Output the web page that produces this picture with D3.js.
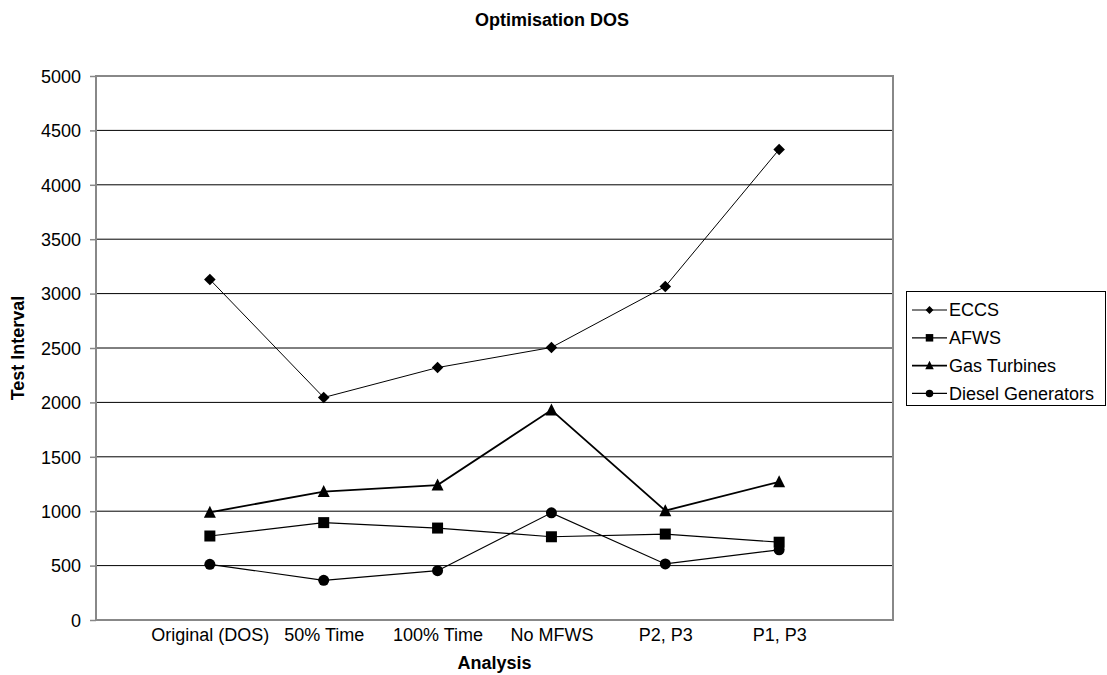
<!DOCTYPE html>
<html>
<head>
<meta charset="utf-8">
<script src="https://cdn.jsdelivr.net/npm/d3@7"></script>
<style>
  body { margin: 0; background: #fff; }
  svg text { font-family: "Liberation Sans", Arial, sans-serif; fill: #000; }
</style>
</head>
<body>
<svg id="chart"></svg>
<script>
var categories = ["Original (DOS)", "50% Time", "100% Time", "No MFWS", "P2, P3", "P1, P3"];
var eccs = [3130, 2045, 2320, 2505, 3065, 4325];
var afws = [772, 895, 845, 765, 790, 715];
var gasTurbines = [990, 1180, 1240, 1930, 1005, 1270];
var dieselGenerators = [512, 365, 453, 985, 515, 645];
var yTicks = [0, 500, 1000, 1500, 2000, 2500, 3000, 3500, 4000, 4500, 5000];

var series = [
  { name: "ECCS", values: eccs, marker: "diamond", width: 1 },
  { name: "AFWS", values: afws, marker: "square", width: 1.2 },
  { name: "Gas Turbines", values: gasTurbines, marker: "triangle", width: 1.8 },
  { name: "Diesel Generators", values: dieselGenerators, marker: "circle", width: 1.2 }
];

var width = 1107, height = 675;
var plot = { left: 96, top: 76, right: 893, bottom: 620 };

var svg = d3.select("#chart")
  .attr("width", width)
  .attr("height", height);

var x = d3.scalePoint()
  .domain(categories)
  .range([plot.left, plot.right])
  .padding(1);

var y = d3.scaleLinear()
  .domain([0, 5000])
  .range([plot.bottom, plot.top]);

// marker paths, centred on 0,0
function markerPath(type, s) {
  var h = s / 2;
  if (type == "diamond") {
    h = h * 1.05;
    return "M0," + (-h) + "L" + h + ",0L0," + h + "L" + (-h) + ",0Z";
  }
  if (type == "square") {
    return "M" + (-h) + "," + (-h) + "h" + s + "v" + s + "h" + (-s) + "Z";
  }
  // triangle
  return "M0," + (-h - 1) + "L" + (h + 0.5) + "," + h + "L" + (-h - 0.5) + "," + h + "Z";
}

function drawMarker(g, type, cx, cy, s) {
  if (type == "circle") {
    g.append("circle")
      .attr("cx", cx)
      .attr("cy", cy)
      .attr("r", s / 2)
      .style("fill", "#000");
  } else {
    g.append("path")
      .attr("d", markerPath(type, s))
      .attr("transform", "translate(" + cx + "," + cy + ")")
      .style("fill", "#000");
  }
}

// gridlines
svg.append("g")
  .attr("class", "grid")
  .selectAll("line")
  .data(yTicks.filter(function (d) { return d > 0 && d < 5000; }))
  .enter().append("line")
    .attr("x1", plot.left)
    .attr("x2", plot.right)
    .attr("y1", function (d) { return y(d); })
    .attr("y2", function (d) { return y(d); })
    .style("stroke", "#000")
    .style("stroke-width", 1);

// plot area border
svg.append("rect")
  .attr("x", plot.left)
  .attr("y", plot.top)
  .attr("width", plot.right - plot.left)
  .attr("height", plot.bottom - plot.top)
  .style("fill", "none")
  .style("stroke", "#888")
  .style("stroke-width", 2);

// y axis
var yAxis = svg.append("g")
  .attr("transform", "translate(" + plot.left + ",0)")
  .call(d3.axisLeft(y).tickValues(yTicks).tickFormat(d3.format("d"))
    .tickSize(6).tickPadding(9).tickSizeOuter(0));
yAxis.select(".domain").remove();
yAxis.selectAll(".tick line").style("stroke", "#888").style("stroke-width", 1.5);
yAxis.selectAll(".tick text")
  .style("font-size", "18px")
  .attr("dy", "0.35em");

// x axis
var xAxis = svg.append("g")
  .attr("transform", "translate(0," + plot.bottom + ")")
  .call(d3.axisBottom(x).tickSize(0).tickPadding(8));
xAxis.select(".domain").remove();
xAxis.selectAll(".tick text")
  .style("font-size", "18px");

// series
var line = d3.line()
  .x(function (d, i) { return x(categories[i]); })
  .y(function (d) { return y(d); });

series.forEach(function (s) {
  var g = svg.append("g").attr("class", "series");
  g.append("path")
    .attr("d", line(s.values))
    .style("fill", "none")
    .style("stroke", "#000")
    .style("stroke-width", s.width);
  s.values.forEach(function (v, i) {
    drawMarker(g, s.marker, x(categories[i]), y(v), 11);
  });
});

// titles
svg.append("text")
  .attr("x", 552)
  .attr("y", 26)
  .attr("text-anchor", "middle")
  .style("font-size", "18px")
  .style("font-weight", "bold")
  .text("Optimisation DOS");

svg.append("text")
  .attr("x", (plot.left + plot.right) / 2)
  .attr("y", 669)
  .attr("text-anchor", "middle")
  .style("font-size", "18px")
  .style("font-weight", "bold")
  .text("Analysis");

svg.append("text")
  .attr("transform", "translate(24," + ((plot.top + plot.bottom) / 2) + ") rotate(-90)")
  .attr("text-anchor", "middle")
  .style("font-size", "18px")
  .style("font-weight", "bold")
  .text("Test Interval");

// legend
var legend = svg.append("g").attr("class", "legend");
legend.append("rect")
  .attr("x", 906.5)
  .attr("y", 291.5)
  .attr("width", 199)
  .attr("height", 114)
  .style("fill", "#fff")
  .style("stroke", "#000")
  .style("stroke-width", 1);

series.forEach(function (s, i) {
  var cy = 310 + i * 27.8;
  legend.append("line")
    .attr("x1", 912)
    .attr("x2", 947)
    .attr("y1", cy)
    .attr("y2", cy)
    .style("stroke", "#000")
    .style("stroke-width", s.width);
  drawMarker(legend, s.marker, 929.5, cy, 7.5);
  legend.append("text")
    .attr("x", 949)
    .attr("y", cy)
    .attr("dy", "0.35em")
    .style("font-size", "18px")
    .text(s.name);
});
</script>
</body>
</html>
